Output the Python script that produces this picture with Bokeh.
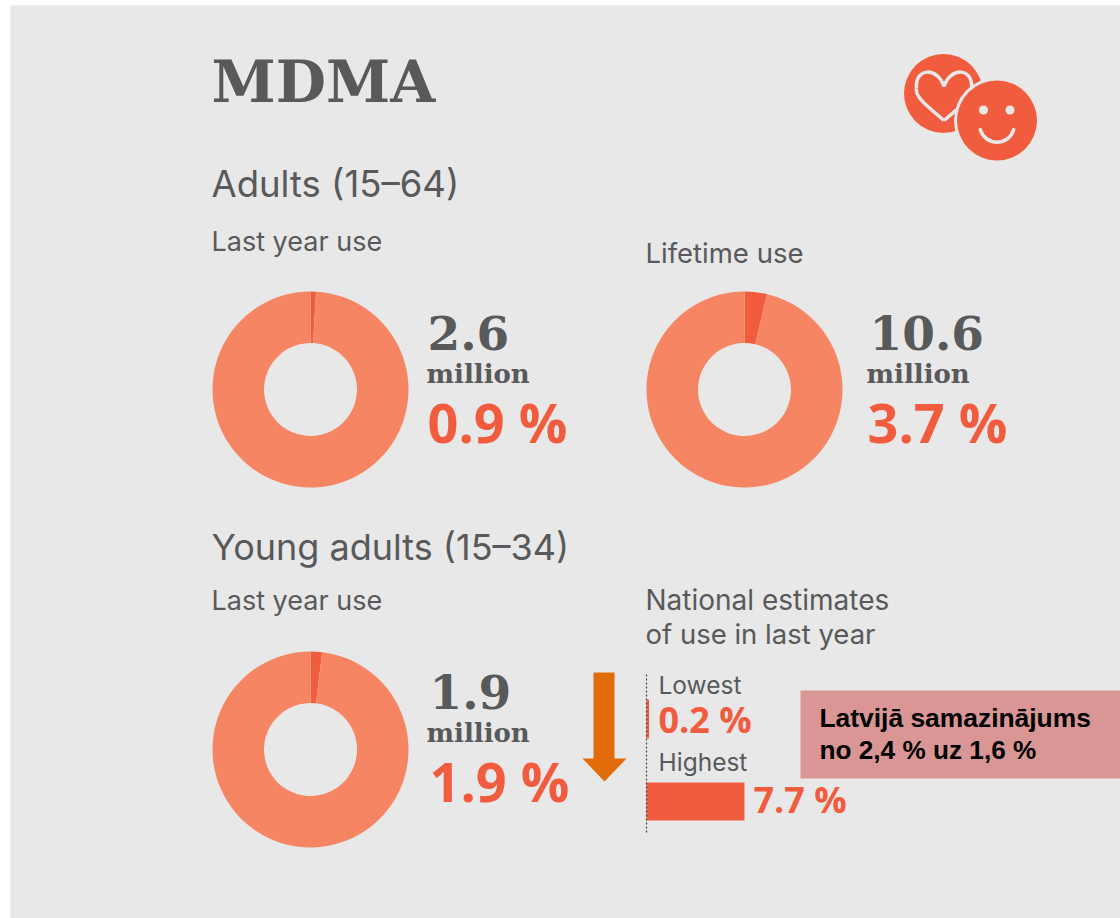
from math import pi
from bokeh.plotting import figure
from bokeh.embed import file_html
from bokeh.resources import INLINE
from bokeh.core.properties import value

W, H = 1120, 918
BG = "#E8E8E8"
DARK = "#58595B"
RED = "#F25C3E"
LIGHT = "#F68563"

donut_labels = ["Adults last year", "Adults lifetime", "Young adults last year"]
donut_shares = [0.9, 3.7, 1.9]
donut_millions = ["2.6", "10.6", "1.9"]
donut_percent = ["0.9 %", "3.7 %", "1.9 %"]
donut_cx = [310, 744, 310]
donut_cy = [389, 389, 749]
text_x = [[427, 426, 427], [869, 866, 867], [429, 426, 429]]
text_y = [[351, 384, 443], [351, 384, 443], [710, 743, 802]]

range_labels = ["Lowest", "Highest"]
range_values = [0.2, 7.7]
range_text = ["0.2 %", "7.7 %"]


def Y(y):
    return H - y


p = figure(width=W, height=H, x_range=(0, W), y_range=(0, H), toolbar_location=None,
           output_backend="svg", min_border=0, outline_line_color=None,
           background_fill_color="white", border_fill_color="white")
p.axis.visible = False
p.grid.visible = False

# panel
p.quad(left=[10], right=[W], top=[Y(5)], bottom=[Y(H)], fill_color=BG, line_color=None)


def label(x, y, s, size, color=DARK, font="Inter", style="normal"):
    p.text([x], [Y(y)], text=[s], text_font=value(font), text_font_size=f"{size}px",
           text_color=color, text_font_style=style, text_baseline="alphabetic", text_align="left",
           y_offset=-0.4 * size)


label(211, 105, "MDMA", 58, font="DejaVu Serif", style="bold")
label(211, 198, "Adults (15–64)", 36.5)
label(211, 252, "Last year use", 27)
label(645, 263, "Lifetime use", 27.5)
label(211, 561, "Young adults (15–34)", 36)
label(211, 611, "Last year use", 27)
label(645, 611, "National estimates", 28)
label(645, 644, "of use in last year", 27.5)

# donuts
for i in range(3):
    cx, cy, share = donut_cx[i], Y(donut_cy[i]), donut_shares[i]
    start = pi / 2 - 2 * pi * share / 100
    p.annular_wedge([cx], [cy], inner_radius=46.5, outer_radius=98, start_angle=pi / 2,
                    end_angle=start, direction="clock", fill_color=RED, line_color=None)
    p.annular_wedge([cx], [cy], inner_radius=46.5, outer_radius=98, start_angle=start,
                    end_angle=pi / 2, direction="clock", fill_color=LIGHT, line_color=None)
    tx, ty = text_x[i], text_y[i]
    label(tx[0], ty[0], donut_millions[i], 47, font="DejaVu Serif", style="bold")
    label(tx[1], ty[1], "million", 26, font="DejaVu Serif", style="bold")
    label(tx[2], ty[2], donut_percent[i], 54, color=RED, font="Open Sans", style="bold")

# arrow
p.patch([593, 614, 614, 626, 604, 582, 593], [Y(v) for v in (672, 672, 758, 758, 781, 758, 758)],
        fill_color="#E36C0A", line_color=None)

# range bars
X0, PX = 646, 98 / 7.7
bar_top = [699, 782]
bar_bot = [738, 820]
p.quad(left=[X0] * 2, right=[X0 + PX * v for v in range_values],
       top=[Y(v) for v in bar_top], bottom=[Y(v) for v in bar_bot], fill_color=RED, line_color=None)
p.line([X0, X0], [Y(674), Y(834)], line_color="#444444", line_width=1.2, line_dash="2 2")
label(658, 694, range_labels[0], 24.5)
label(658, 771, range_labels[1], 24.5)
label(658, 733, range_text[0], 36, color=RED, font="Open Sans", style="bold")
label(753, 813, range_text[1], 36, color=RED, font="Open Sans", style="bold")

# callout
p.quad(left=[800], right=[W], top=[Y(690)], bottom=[Y(778)], fill_color="#D99694", line_color=None)
label(819, 728, "Latvijā samazinājums", 26.4, color="black", font="Liberation Sans", style="bold")
label(819, 760, "no 2,4 % uz 1,6 %", 26.2, color="black", font="Liberation Sans", style="bold")

# icon
p.circle([943], [Y(93)], radius=39.5, fill_color=RED, line_color=None)
p.bezier(x0=[943.5, 943.5, 943.5, 943.5], y0=[Y(120), Y(86), Y(120), Y(86)],
         x1=[916, 916, 971, 971], y1=[Y(88)] * 4,
         cx0=[930, 937, 957, 950], cy0=[Y(108), Y(66), Y(108), Y(66)],
         cx1=[914, 914, 973, 973], cy1=[Y(97), Y(67), Y(97), Y(67)],
         line_color=BG, line_width=3.5)
p.circle([996.5], [Y(120)], radius=43, fill_color=BG, line_color=None)
p.circle([996.5], [Y(120)], radius=40, fill_color=RED, line_color=None)
p.circle([983, 1009.5], [Y(109.5)] * 2, radius=4.5, fill_color=BG, line_color=None)
p.arc([996.5], [Y(124.3)], radius=17.4, start_angle=196.7 * pi / 180, end_angle=343.3 * pi / 180,
      direction="anticlock", line_color=BG, line_width=3.5, line_cap="round")

open("out.html", "w").write(file_html(p, INLINE))
